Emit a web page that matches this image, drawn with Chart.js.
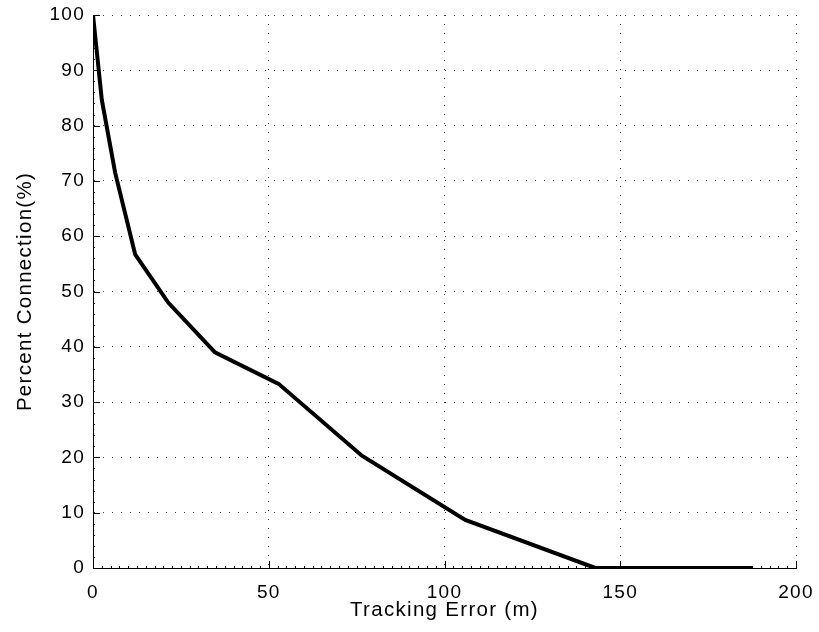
<!DOCTYPE html>
<html>
<head>
<meta charset="utf-8">
<script src="https://cdn.jsdelivr.net/npm/chart.js@4"></script>
<style>
  html, body { margin: 0; padding: 0; background: #fff; }
  #wrap { width: 819px; height: 632px; }
</style>
</head>
<body>
<div id="wrap"><canvas id="c" width="819" height="632"></canvas></div>
<script>
// Tracking error (m) vs. percentage of connections kept
const trackingError = [0, 2.5, 6.3, 12, 21.4, 34.7, 52.8, 76.5, 105.9, 142.9, 187.5];
const percentConnection = [100, 84.7, 71.5, 56.7, 48.0, 39.0, 33.3, 20.3, 8.7, 0, 0];

const xTicks = [0, 50, 100, 150, 200];
const yTicks = [0, 10, 20, 30, 40, 50, 60, 70, 80, 90, 100];

const FONT = 'Liberation Sans, Arial, Helvetica, sans-serif';
const LETTER_SPACING = '1.3px';

// Slightly tracked-out lettering for all axis text
const textSpacing = {
  id: 'textSpacing',
  beforeUpdate(chart) { chart.ctx.letterSpacing = LETTER_SPACING; },
  beforeLayout(chart) { chart.ctx.letterSpacing = LETTER_SPACING; },
  beforeDraw(chart) { chart.ctx.letterSpacing = LETTER_SPACING; }
};

// Inward major and minor ticks on the left and bottom axes
const inwardTicks = {
  id: 'inwardTicks',
  afterDatasetsDraw(chart) {
    const { ctx, chartArea: a, scales: { x, y } } = chart;
    ctx.save();
    ctx.strokeStyle = '#000';
    ctx.lineWidth = 1;
    ctx.beginPath();
    for (let v = 0; v <= 200 + 1e-9; v += 2.5) {
      const px = Math.round(x.getPixelForValue(v)) + 0.5;
      const len = v % 50 === 0 ? 7 : 2;
      ctx.moveTo(px, a.bottom);
      ctx.lineTo(px, a.bottom - len);
    }
    for (let v = 0; v <= 100 + 1e-9; v += 2) {
      const py = Math.round(y.getPixelForValue(v)) + 0.5;
      const len = v % 10 === 0 ? 7 : 2;
      ctx.moveTo(a.left, py);
      ctx.lineTo(a.left + len, py);
    }
    ctx.stroke();
    ctx.restore();
  }
};

// Fixed axis band sizes; label overflow is covered by the layout padding
function fixBand(size, horizontal) {
  return s => {
    if (horizontal) s.height = size; else s.width = size;
    s.paddingTop = s.paddingBottom = s.paddingLeft = s.paddingRight = 0;
  };
}

new Chart(document.getElementById('c'), {
  type: 'line',
  data: {
    datasets: [{
      data: trackingError.map((t, i) => ({ x: t, y: percentConnection[i] })),
      borderColor: '#000',
      borderWidth: 4,
      pointRadius: 0,
      tension: 0,
      fill: false
    }]
  },
  options: {
    responsive: false,
    animation: false,
    layout: { padding: { top: 15, right: 23, left: 0, bottom: 0 } },
    plugins: { legend: { display: false }, tooltip: { enabled: false } },
    scales: {
      x: {
        type: 'linear',
        min: 0, max: 200,
        afterBuildTicks: s => { s.ticks = xTicks.map(v => ({ value: v })); },
        afterFit: fixBand(64, true),
        ticks: { color: '#000', font: { family: FONT, size: 19 }, padding: 13, maxRotation: 0 },
        grid: { color: 'rgba(0,0,0,0.75)', lineWidth: 1, drawTicks: false },
        border: { display: true, color: '#000', width: 1, dash: [1, 8] },
        title: {
          display: true, text: 'Tracking Error (m)', color: '#000',
          font: { family: FONT, size: 20.5 }, padding: { top: 0, bottom: 9 }
        }
      },
      y: {
        type: 'linear',
        min: 0, max: 100,
        afterBuildTicks: s => { s.ticks = yTicks.map(v => ({ value: v })); },
        afterFit: fixBand(93, false),
        ticks: { color: '#000', font: { family: FONT, size: 19 }, padding: 8 },
        grid: { color: 'rgba(0,0,0,0.75)', lineWidth: 1, drawTicks: false },
        border: { display: true, color: '#000', width: 1, dash: [1, 8] },
        title: {
          display: true, text: 'Percent Connection(%)', color: '#000',
          font: { family: FONT, size: 20.5 }, padding: { top: 13, bottom: 0 }
        }
      }
    }
  },
  plugins: [textSpacing, inwardTicks]
});
</script>
</body>
</html>
